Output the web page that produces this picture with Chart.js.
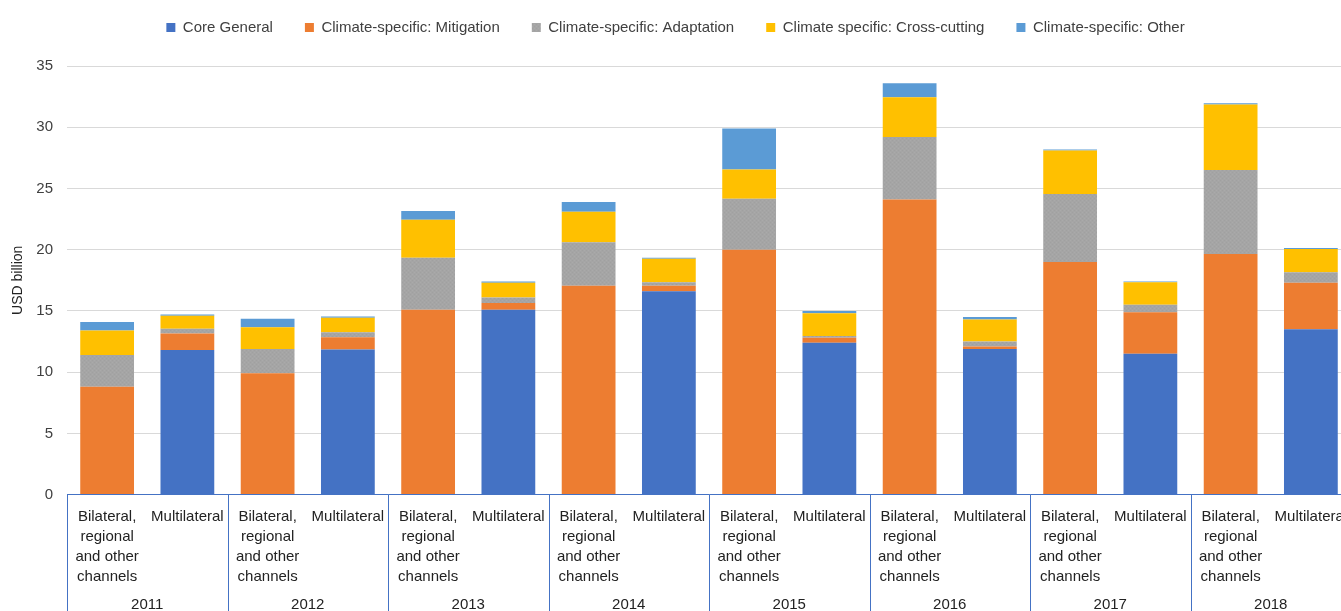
<!DOCTYPE html>
<html>
<head>
<meta charset="utf-8">
<script src="https://cdn.jsdelivr.net/npm/chart.js@4"></script>
<style>
  body { margin: 0; background: #fff; }
  #wrap { width: 1341px; height: 611px; overflow: hidden; }
  canvas { display: block; }
</style>
</head>
<body>
<div id="wrap"><canvas id="fundingChart" width="1362" height="611"></canvas></div>
<script>
// data, USD billion
const years = ['2011', '2012', '2013', '2014', '2015', '2016', '2017', '2018'];
const channels = [['Bilateral,', 'regional', 'and other', 'channels'], 'Multilateral'];
const categories = years.flatMap(() => channels);

// each array: bilateral, multilateral for 2011..2018
const coreGeneral  = [0, 11.8, 0, 11.85, 0, 15.1, 0, 16.6, 0, 12.4, 0, 11.9, 0, 11.5, 0, 13.5];
const mitigation   = [8.8, 1.35, 9.9, 1.0, 15.1, 0.55, 17.05, 0.45, 20.0, 0.4, 24.1, 0.2, 19.0, 3.4, 19.65, 3.8];
const adaptation   = [2.6, 0.4, 2.0, 0.4, 4.25, 0.45, 3.55, 0.3, 4.15, 0.15, 5.1, 0.4, 5.55, 0.6, 6.85, 0.85];
const crossCutting = [2.0, 1.05, 1.77, 1.2, 3.1, 1.2, 2.5, 1.9, 2.4, 1.85, 3.25, 1.8, 3.55, 1.85, 5.35, 1.9];
const otherClimate = [0.7, 0.1, 0.7, 0.1, 0.7, 0.1, 0.8, 0.1, 3.35, 0.2, 1.15, 0.2, 0.08, 0.05, 0.1, 0.08];

const FONT = "'Liberation Sans', Arial, sans-serif";

// faintly speckled grey like the excel fill
const greyPattern = function () {
    const c = document.createElement('canvas');
    c.width = 4; c.height = 4;
    const g = c.getContext('2d');
    g.fillStyle = '#A5A5A5'; g.fillRect(0, 0, 4, 4);
    g.fillStyle = '#A0A0A0'; g.fillRect(0, 0, 1, 1); g.fillRect(2, 2, 1, 1);
    g.fillStyle = '#AAAAAA'; g.fillRect(2, 0, 1, 1); g.fillRect(0, 2, 1, 1);
    return g.createPattern(c, 'repeat');
};

// vertical year separators below the axis
const yearSeparators = {
    id: 'yearSeparators',
    afterDraw: function (chart) {
        const xs = chart.scales.x;
        const ctx = chart.ctx;
        const step = xs.getPixelForValue(1) - xs.getPixelForValue(0);
        ctx.save();
        ctx.strokeStyle = '#4472C4';
        ctx.lineWidth = 1;
        for (let g = 0; g <= years.length; g++) {
            const px = Math.round(xs.getPixelForValue(g * 2) - step / 2) + 0.5;
            ctx.beginPath();
            ctx.moveTo(px, chart.chartArea.bottom);
            ctx.lineTo(px, chart.height);
            ctx.stroke();
        }
        ctx.restore();
    }
};

// legend box height fixed so the plot starts where excel put it
const legendFit = {
    id: 'legendFit',
    beforeInit: function (chart) {
        const orig = chart.legend.fit;
        chart.legend.fit = function () {
            orig.bind(chart.legend)();
            this.height = 78;
        };
    }
};

const makeSet = (label, data, color) => ({
    label: label,
    data: data,
    backgroundColor: color,
    borderWidth: 0,
    categoryPercentage: 1,
    barPercentage: 0.67,
    xAxisID: 'x'
});

new Chart(document.getElementById('fundingChart'), {
    type: 'bar',
    data: {
        labels: categories,
        datasets: [
            makeSet('Core General', coreGeneral, '#4472C4'),
            makeSet('Climate-specific: Mitigation', mitigation, '#ED7D31'),
            makeSet('Climate-specific: Adaptation', adaptation, greyPattern()),
            makeSet('Climate specific: Cross-cutting', crossCutting, '#FFC000'),
            makeSet('Climate-specific: Other', otherClimate, '#5B9BD5')
        ]
    },
    options: {
        responsive: false,
        animation: false,
        layout: { padding: { top: -12, right: 11, bottom: 0, left: 0 } },
        plugins: {
            legend: {
                position: 'top',
                labels: {
                    boxWidth: 9,
                    boxHeight: 9,
                    padding: 32,
                    color: '#404040',
                    font: { family: FONT, size: 15 }
                }
            },
            tooltip: { enabled: false }
        },
        scales: {
            x: {
                stacked: true,
                grid: { display: false, drawTicks: false },
                border: { display: true, color: '#4472C4', width: 1 },
                ticks: {
                    autoSkip: false,
                    maxRotation: 0,
                    padding: 12,
                    color: '#222',
                    font: { family: FONT, size: 15, lineHeight: 1.34 }
                }
            },
            x2: {
                type: 'category',
                labels: years,
                position: 'bottom',
                grid: { display: false, drawTicks: false },
                border: { display: false },
                ticks: {
                    padding: -3,
                    color: '#222',
                    font: { family: FONT, size: 15 }
                }
            },
            y: {
                stacked: true,
                min: 0,
                max: 35,
                afterFit: function (scale) { scale.width = 67; },
                ticks: {
                    stepSize: 5,
                    padding: 14,
                    color: '#404040',
                    font: { family: FONT, size: 15 }
                },
                grid: { color: '#D9D9D9', lineWidth: 1, drawTicks: false },
                border: { display: false },
                title: {
                    display: true,
                    text: 'USD billion',
                    color: '#222',
                    padding: { top: 10, bottom: 4 },
                    font: { family: FONT, size: 14 }
                }
            }
        }
    },
    plugins: [yearSeparators, legendFit]
});
</script>
</body>
</html>
